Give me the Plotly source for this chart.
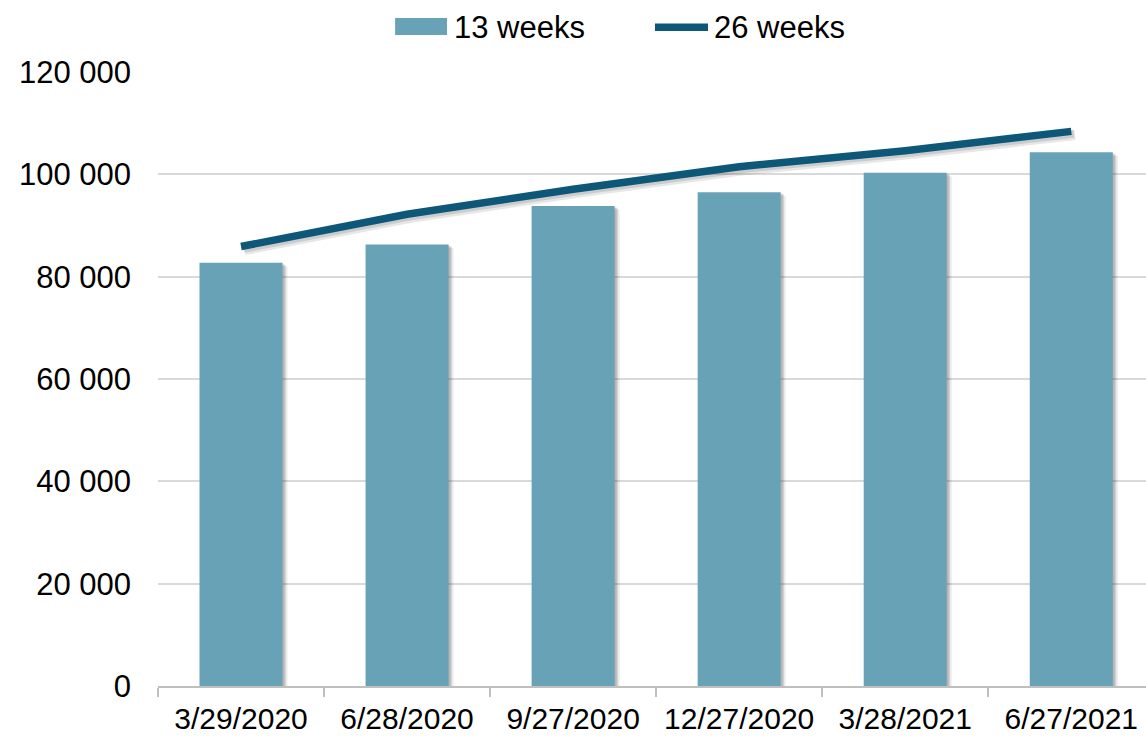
import plotly.graph_objects as go

# Quarter-end dates and the two rolling series
dates = ["3/29/2020", "6/28/2020", "9/27/2020", "12/27/2020", "3/28/2021", "6/27/2021"]
weeks_13 = [82700, 86300, 93800, 96500, 100300, 104300]
weeks_26 = [85900, 92200, 97100, 101500, 104600, 108400]
series_names = ["13 weeks", "26 weeks"]

BAR_COLOR = "#68a2b6"
LINE_COLOR = "#0d5878"
FONT = "Liberation Sans, Arial, sans-serif"

x = list(range(len(dates)))
fig = go.Figure()

# soft drop shadows (offset copies drawn underneath)
for dx, dy, op in [(0.030, 700, 0.10), (0.020, 450, 0.14), (0.012, 250, 0.18)]:
    fig.add_trace(go.Bar(
        x=x, y=weeks_13, base=[-dy] * len(x), width=0.5, offset=-0.25 + dx,
        marker=dict(color=f"rgba(60,60,60,{op})", line_width=0),
        showlegend=False, hoverinfo="skip"))

fig.add_trace(go.Bar(
    x=x, y=weeks_13, width=0.5, offset=-0.25, name=series_names[0],
    marker=dict(color=BAR_COLOR, line_width=0), showlegend=False))

for dx, dy, op, w in [(0.022, 700, 0.12, 10), (0.015, 450, 0.16, 8)]:
    fig.add_trace(go.Scatter(
        x=[i + dx for i in x], y=[v - dy for v in weeks_26], mode="lines",
        line=dict(color=f"rgba(60,60,60,{op})", width=w),
        showlegend=False, hoverinfo="skip"))

fig.add_trace(go.Scatter(
    x=x, y=weeks_26, mode="lines", name=series_names[1],
    line=dict(color=LINE_COLOR, width=7.5), showlegend=False))

# legend drawn as swatches + labels across the top
leg_y = 1.073
shapes = [
    dict(type="rect", xref="paper", yref="paper", x0=0.240, x1=0.2925,
         y0=1.0603, y1=1.0879, fillcolor=BAR_COLOR, line_width=0),
    dict(type="line", xref="paper", yref="paper", x0=0.503, x1=0.5567,
         y0=leg_y, y1=leg_y, line=dict(color=LINE_COLOR, width=7.5)),
]
annotations = [
    dict(text=series_names[0], xref="paper", yref="paper", x=0.2976, y=leg_y,
         xanchor="left", yanchor="middle", showarrow=False, font=dict(size=31)),
    dict(text=series_names[1], xref="paper", yref="paper", x=0.5607, y=leg_y,
         xanchor="left", yanchor="middle", showarrow=False, font=dict(size=31)),
]

fig.update_layout(
    width=1146, height=737,
    margin=dict(l=158, r=0, t=72, b=51, autoexpand=False),
    paper_bgcolor="white", plot_bgcolor="white",
    barmode="overlay",
    separators=". ",
    font=dict(family=FONT, size=31, color="#000000"),
    showlegend=False,
    shapes=shapes, annotations=annotations,
)

fig.update_xaxes(
    range=[-0.5, 5.45], tickmode="array", tickvals=x, ticktext=dates,
    ticks="", showgrid=False, zeroline=False, automargin=False,
    showline=True, linecolor="#bfbfbf", linewidth=2,
    ticklabelstandoff=5, tickfont=dict(size=30),
    minor=dict(tick0=-0.5, dtick=1, ticks="outside", ticklen=9,
               tickcolor="#bfbfbf", tickwidth=2, showgrid=False),
)
fig.update_yaxes(
    range=[0, 120000], tickmode="array", tickvals=list(range(0, 120001, 20000)),
    tickformat=",d", showgrid=True, gridcolor="#d9d9d9", gridwidth=2,
    zeroline=False, showline=False, ticks="", ticklabelstandoff=26,
    automargin=False,
)

fig.write_html("out.html")
